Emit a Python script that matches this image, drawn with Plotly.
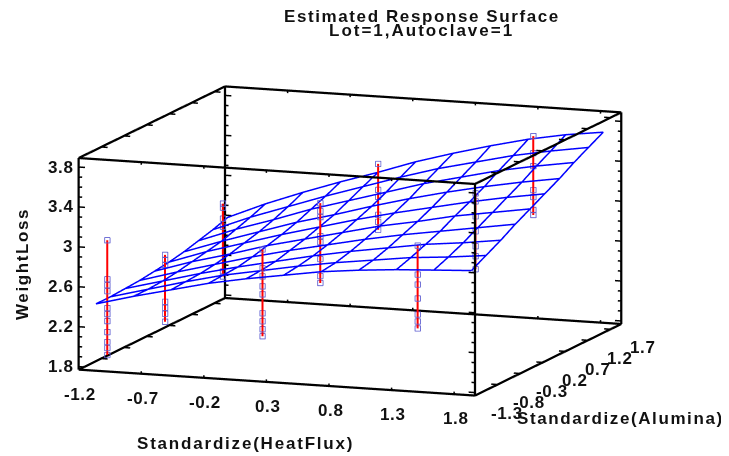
import plotly.graph_objects as go

surf_x = [-1.12, -0.82, -0.52, -0.22, 0.08, 0.38, 0.68, 0.98, 1.28, 1.58, 1.88]
surf_y = [-1.14, -0.82, -0.49, -0.17, 0.16, 0.48, 0.81, 1.13, 1.45, 1.78]
# one row per surf_x value, one entry per surf_y value
surf_z = [
    [2.40, 2.40, 2.41, 2.42, 2.44, 2.46, 2.49, 2.53, 2.57, 2.62],
    [2.50, 2.50, 2.51, 2.53, 2.56, 2.59, 2.62, 2.67, 2.72, 2.78],
    [2.59, 2.60, 2.61, 2.63, 2.66, 2.70, 2.74, 2.79, 2.85, 2.92],
    [2.68, 2.69, 2.70, 2.73, 2.77, 2.81, 2.86, 2.92, 2.98, 3.05],
    [2.75, 2.76, 2.78, 2.82, 2.86, 2.91, 2.96, 3.03, 3.10, 3.17],
    [2.81, 2.83, 2.86, 2.90, 2.95, 3.01, 3.07, 3.14, 3.22, 3.30],
    [2.87, 2.89, 2.93, 2.98, 3.04, 3.10, 3.17, 3.25, 3.33, 3.41],
    [2.91, 2.94, 2.99, 3.05, 3.11, 3.18, 3.26, 3.34, 3.42, 3.51],
    [2.94, 2.99, 3.05, 3.11, 3.19, 3.26, 3.34, 3.43, 3.51, 3.60],
    [2.96, 3.02, 3.09, 3.17, 3.25, 3.33, 3.41, 3.50, 3.58, 3.67],
    [2.98, 3.06, 3.14, 3.23, 3.31, 3.39, 3.47, 3.56, 3.64, 3.72],
]
col_x = [-1.08, -1.08, -1.08, 0.16, 0.16, 0.16, 1.40, 1.40, 1.40]
col_y = [-1.00, 0.28, 1.56, -1.00, 0.28, 1.56, -1.00, 0.28, 1.56]
col_z = [
    [3.01, 2.62, 2.56, 2.50, 2.33, 2.27, 2.20, 2.09, 1.99, 1.93, 1.86],
    [2.58, 2.53, 2.48, 2.11, 2.05, 1.99, 1.91],
    [2.81, 2.77, 2.66, 2.58, 2.13, 2.08],
    [3.02, 2.83, 2.75, 2.65, 2.57, 2.38, 2.30, 2.22, 2.15],
    [3.20, 3.12, 3.06, 2.87, 2.81, 2.64, 2.47, 2.40],
    [3.31, 3.05, 2.98, 2.80, 2.73, 2.65],
    [3.16, 2.87, 2.77, 2.63, 2.47, 2.40, 2.33],
    [3.40, 3.32, 3.17, 3.02, 2.87, 2.77, 2.64],
    [3.69, 3.52, 3.39, 3.15, 3.08, 2.95, 2.90],
]
x_range = [-1.2, 1.966]
y_range = [-1.3, 1.94]
z_range = [1.77, 3.89]
x_major = ["-1.2", "-0.7", "-0.2", "0.3", "0.8", "1.3", "1.8"]
y_major = ["-1.3", "-0.8", "-0.3", "0.2", "0.7", "1.2", "1.7"]
z_major = ["1.8", "2.2", "2.6", "3", "3.4", "3.8"]

fig = go.Figure()
wx, wy, wz = [], [], []
for i, xv in enumerate(surf_x):
    wx += [xv] * len(surf_y) + [None]
    wy += surf_y + [None]
    wz += surf_z[i] + [None]
for j, yv in enumerate(surf_y):
    wx += surf_x + [None]
    wy += [yv] * len(surf_x) + [None]
    wz += [r[j] for r in surf_z] + [None]
fig.add_trace(go.Scatter3d(x=wx, y=wy, z=wz, mode="lines", line=dict(color="#0000ff", width=3),
                           connectgaps=False, hoverinfo="skip"))
for xv, yv, zs in zip(col_x, col_y, col_z):
    fig.add_trace(go.Scatter3d(x=[xv] * len(zs), y=[yv] * len(zs), z=zs, mode="markers",
                               marker=dict(size=2.4, color="#5f5fd0", symbol="square-open",
                                           line=dict(color="#5f5fd0", width=2.5)), hoverinfo="skip"))
    fig.add_trace(go.Scatter3d(x=[xv] * len(zs), y=[yv] * len(zs), z=zs, mode="lines",
                               line=dict(color="#ff0000", width=4), hoverinfo="skip"))

# frame of the box, taken from the axis ranges
x0, x1 = x_range
y0, y1 = y_range
z0, z1 = z_range
bx, by, bz = [], [], []
def seg(a, b):
    bx.extend([a[0], b[0], None]); by.extend([a[1], b[1], None]); bz.extend([a[2], b[2], None])
for yv in (y0, y1):
    for zv in (z0, z1):
        seg((x0, yv, zv), (x1, yv, zv))
for xv in (x0, x1):
    for zv in (z0, z1):
        seg((xv, y0, zv), (xv, y1, zv))
    for yv in (y0, y1):
        seg((xv, yv, z0), (xv, yv, z1))
fig.add_trace(go.Scatter3d(x=bx, y=by, z=bz, mode="lines", line=dict(color="black", width=4.5),
                           connectgaps=False, hoverinfo="skip"))
# ticks along the edges
tx, ty, tz = [], [], []
def tseg(a, b):
    tx.extend([a[0], b[0], None]); ty.extend([a[1], b[1], None]); tz.extend([a[2], b[2], None])
dx = (x1 - x0) * 0.016
dz = (z1 - z0) * 0.012
zval = float(z_major[0])
n = 0
while zval < z1:
    ln = dx if n % 4 == 0 else dx * 0.55
    for yv in (y0, y1):
        tseg((x0, yv, zval), (x0 + ln, yv, zval))
        tseg((x1, yv, zval), (x1 - ln, yv, zval))
    zval = round(zval + 0.1, 2); n += 1
for m in x_major:
    for yv in (y0, y1):
        tseg((float(m), yv, z0), (float(m), yv, z0 + dz))
        tseg((float(m), yv, z1), (float(m), yv, z1 - dz))
for m in y_major:
    for xv, sgn in ((x0, 1), (x1, -1)):
        tseg((xv, float(m), z0), (xv + sgn * dx, float(m), z0))
        tseg((xv, float(m), z1), (xv + sgn * dx, float(m), z1))
fig.add_trace(go.Scatter3d(x=tx, y=ty, z=tz, mode="lines", line=dict(color="black", width=3),
                           connectgaps=False, hoverinfo="skip"))

FONT = "Liberation Sans"
INK = "#111111"
def styled(text, ls):
    return '<span style="letter-spacing:%.2fpx"><b>%s</b></span>' % (ls, text)
hidden = dict(showgrid=False, zeroline=False, showbackground=False, showspikes=False,
              showline=False, ticks="", showticklabels=False, title=dict(text=""))
def padded(rng):
    # the frame sits on the range limits; a hair of padding keeps it from being clipped
    return [rng[0] - 0.004, rng[1] + 0.004]
scene_notes = []
def tick_note(text, x, y, z, xs, ys, anchor="center"):
    scene_notes.append(dict(x=x, y=y, z=z, text=styled(text, 0.6), showarrow=False, xanchor=anchor,
                            yanchor="middle", xshift=xs, yshift=ys,
                            font=dict(family=FONT, size=17, color=INK)))
for m in x_major:
    tick_note(m, float(m), y0, z0, 1.5, -24.5)
for m in y_major:
    tick_note(m, x1, float(m), z0, 32, -18)
for m in z_major:
    tick_note(m, x0, y0, float(m), -4, 0, "right")

fig.update_layout(
    width=729, height=456, autosize=False, showlegend=False,
    margin=dict(l=0, r=0, t=0, b=0), paper_bgcolor="white",
    scene=dict(
        domain=dict(x=[0, 0.938], y=[0, 0.978]),
        xaxis=dict(range=padded(x_range), **hidden), yaxis=dict(range=padded(y_range), **hidden),
        zaxis=dict(range=padded(z_range), **hidden),
        aspectmode="manual", aspectratio=dict(x=1.897, y=1.915, z=0.968),
        camera=dict(projection=dict(type="orthographic"),
                    up=dict(x=0, y=0, z=1), center=dict(x=0, y=0, z=0),
                    eye=dict(x=0.338 * 2, y=-0.924 * 2, z=0.179 * 2)),
        annotations=scene_notes,
    ),
)
def note(text, px, py, size=17, ls=1.7, angle=0):
    fig.add_annotation(text=styled(text, ls), x=px / 729, y=1 - py / 456, xref="paper", yref="paper",
                       showarrow=False, textangle=angle, xanchor="center", yanchor="middle",
                       font=dict(family=FONT, size=size, color=INK))
note("Estimated Response Surface", 414, 8, 17, 1.6)
note("Lot=1,Autoclave=1", 413, 23, 17, 2.0)
note("WeightLoss", 14, 256, 17, 1.6, -90)
note("Standardize(HeatFlux)", 237, 435, 17, 1.8)
note("Standardize(Alumina)", 612, 410, 17, 1.6)
fig.write_html("out.html")
